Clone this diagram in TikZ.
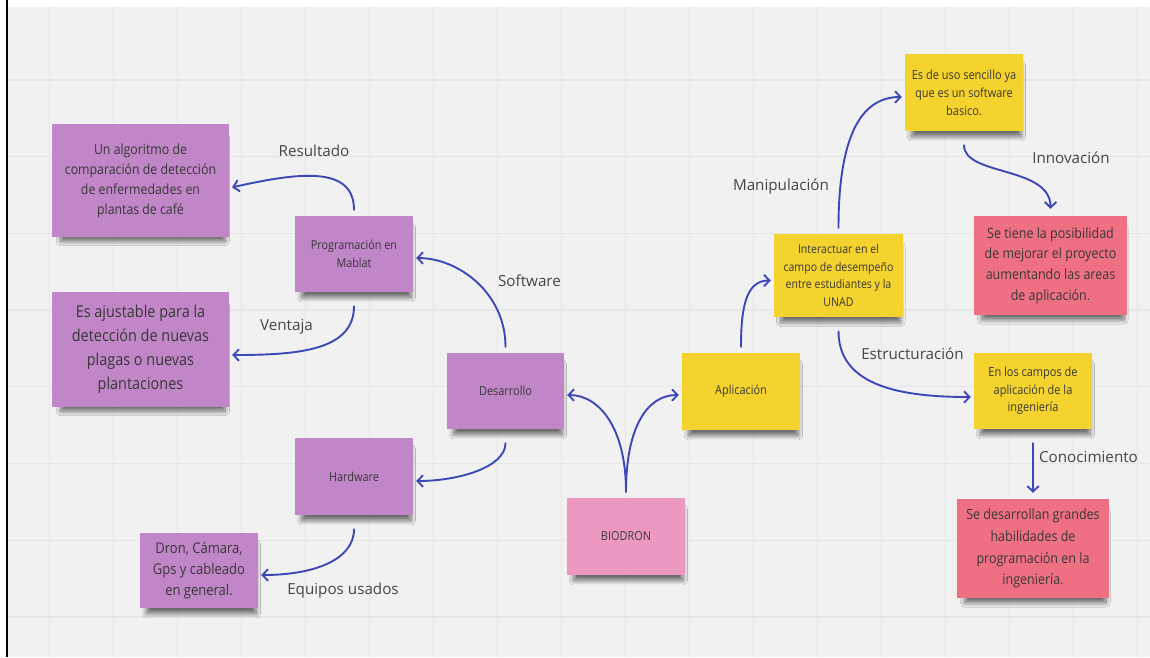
\documentclass[tikz,border=0pt]{standalone}
\usepackage{fontspec}
\setmainfont{Open Sans}
\newfontfamily\notefont[FakeStretch=0.88]{Open Sans}
\usetikzlibrary{arrows.meta,shadows.blur}

\definecolor{canvas}{HTML}{F1F1F1}
\definecolor{gridline}{HTML}{E6E6E6}
\definecolor{lilac}{HTML}{C186C7}
\definecolor{rosa}{HTML}{EC98C0}
\definecolor{amarillo}{HTML}{F5D32F}
\definecolor{coral}{HTML}{EF7083}
\definecolor{flecha}{HTML}{3E47B6}
\definecolor{tinta}{HTML}{383838}
\definecolor{rotulo}{HTML}{454545}

\tikzset{
  note/.style={rectangle, draw=none, align=center, text=tinta, inner sep=2pt,
    blur shadow={shadow xshift=2.5pt, shadow yshift=-9pt, shadow scale=0.93,
                 shadow opacity=55, shadow blur radius=4.5pt, shadow blur steps=20}},
  notesize/.style n args={2}{minimum width=#1, minimum height=#2},
  label/.style={anchor=base, text=rotulo, inner sep=0pt,
    font=\fontsize{15.2}{18}\selectfont},
  link/.style={draw=flecha, line width=1.9pt, line cap=round,
    shorten >=3pt, -{Straight Barb[length=5.5pt,width=11.5pt]}},
  fromtop/.style={shorten <=6pt},
  frombottom/.style={shorten <=14pt}
}

\begin{document}
\begin{tikzpicture}[x=1pt, y=-1pt]
  \useasboundingbox (0,0) rectangle (1150,657);
  % board
  \fill[white] (0,0) rectangle (1150,657);
  \fill[canvas] (7,7) rectangle (1150,657);
  \foreach \gx in {49.5,113.5,...,1145}
    \draw[gridline, line width=1.3pt] (\gx,7) -- (\gx,657);
  \foreach \gy in {80,156.7,...,650}
    \draw[gridline, line width=1.3pt] (7,\gy) -- (1150,\gy);
  \draw[black, line width=1.6pt] (6.8,0) -- (6.8,657);

  % sticky notes
  \node[note, fill=lilac, notesize={177pt}{113pt},
        font=\notefont\fontsize{14}{20}\selectfont] (alg) at (140.5,180.5)
    {Un algoritmo de\\comparación de detección\\de enfermedades en\\plantas de café};
  \node[note, fill=lilac, notesize={118pt}{76pt},
        font=\notefont\fontsize{12.3}{17.5}\selectfont] (prog) at (354,254)
    {Programación en\\Mablat};
  \node[note, fill=lilac, notesize={177pt}{115pt},
        font=\notefont\fontsize{16.4}{24}\selectfont] (ajust) at (140.5,349.5)
    {Es ajustable para la\\detección de nuevas\\plagas o nuevas\\plantaciones};
  \node[note, fill=lilac, notesize={118pt}{77pt},
        font=\notefont\fontsize{12.4}{17}\selectfont] (hard) at (354,476.5)
    {Hardware};
  \node[note, fill=lilac, notesize={118pt}{75pt},
        font=\notefont\fontsize{14.8}{21}\selectfont] (dron) at (199,570.5)
    {Dron, Cámara,\\Gps y cableado\\en general.};
  \node[note, fill=lilac, notesize={117pt}{76pt},
        font=\notefont\fontsize{12.4}{17}\selectfont] (desa) at (505.5,391)
    {Desarrollo};
  \node[note, fill=rosa, notesize={118pt}{77pt},
        font=\notefont\fontsize{12.4}{17}\selectfont] (bio) at (626,536.5)
    {BIODRON};
  \node[note, fill=amarillo, notesize={118pt}{77pt},
        font=\notefont\fontsize{12.4}{17}\selectfont] (apli) at (741,391.5)
    {Aplicación};
  \node[note, fill=amarillo, notesize={129pt}{83pt},
        font=\notefont\fontsize{12}{17.7}\selectfont] (inter) at (838.5,275.5)
    {Interactuar en el\\campo de desempeño\\entre estudiantes y la\\UNAD};
  \node[note, fill=amarillo, notesize={118pt}{77pt},
        font=\notefont\fontsize{12.5}{18}\selectfont] (uso) at (964,92.5)
    {Es de uso sencillo ya\\que es un software\\basico.};
  \node[note, fill=coral, notesize={153pt}{99pt},
        font=\notefont\fontsize{14.2}{20.7}\selectfont] (tiene) at (1050.5,265.5)
    {Se tiene la posibilidad\\de mejorar el proyecto\\aumentando las areas\\de aplicación.};
  \node[note, fill=amarillo, notesize={118pt}{76pt},
        font=\notefont\fontsize{12.5}{17.7}\selectfont] (campos) at (1033,391)
    {En los campos de\\aplicación de la\\ingeniería};
  \node[note, fill=coral, notesize={152pt}{99pt},
        font=\notefont\fontsize{14.2}{21.7}\selectfont] (habil) at (1033,548.5)
    {Se desarrollan grandes\\habilidades de\\programación en la\\ingeniería.};

  % connector labels
  \node[label] (lres) at (314,156.7) {Resultado};
  \node[label] (lven) at (286.5,330.7) {Ventaja};
  \node[label] (lsof) at (529.5,286) {Software};
  \node[label] (lequ) at (343,594) {Equipos usados};
  \node[label] (lman) at (781,190) {Manipulación};
  \node[label] (linn) at (1071,163) {Innovación};
  \node[label] (lest) at (912.5,359.3) {Estructuración};
  \node[label] (lcon) at (1088.5,462.7) {Conocimiento};

  % connectors
  \draw[link, fromtop] (prog.north) .. controls +(0,-50) and +(71,-16) .. ([yshift=-7.5pt]alg.east);
  \draw[link, frombottom] (prog.south) .. controls +(0,58) and +(70,0) .. ([yshift=-5.5pt]ajust.east);
  \draw[link, fromtop] (desa.north) .. controls +(0,-60) and +(45,0) .. ([yshift=-4pt]prog.east);
  \draw[link, frombottom] (desa.south) .. controls +(0,38) and +(45,0) .. ([yshift=-4.5pt]hard.east);
  \draw[link, frombottom] (hard.south) .. controls +(0,45) and +(55,0) .. ([yshift=-4.5pt]dron.east);
  \draw[link, fromtop] (bio.north) .. controls +(0,-70) and +(35,0) .. ([yshift=-4pt]desa.east);
  \draw[link, fromtop] (bio.north) .. controls +(0,-70) and +(-35,0) .. ([yshift=-3.5pt]apli.west);
  \draw[link, fromtop] (apli.north) .. controls +(0,-45) and +(-28,0) .. ([yshift=-5pt]inter.west);
  \draw[link, fromtop] (inter.north) .. controls +(0,-95) and +(-45,0) .. ([yshift=-4.5pt]uso.west);
  \draw[link, frombottom, shorten >=7pt] (uso.south) .. controls +(0,45) and +(0,-50) .. (tiene.north);
  \draw[link, frombottom] (inter.south) .. controls +(0,70) and +(-70,0) .. ([yshift=-6pt]campos.west);
  \draw[link, frombottom, shorten >=6pt] (campos.south) -- (habil.north);
\end{tikzpicture}
\end{document}
